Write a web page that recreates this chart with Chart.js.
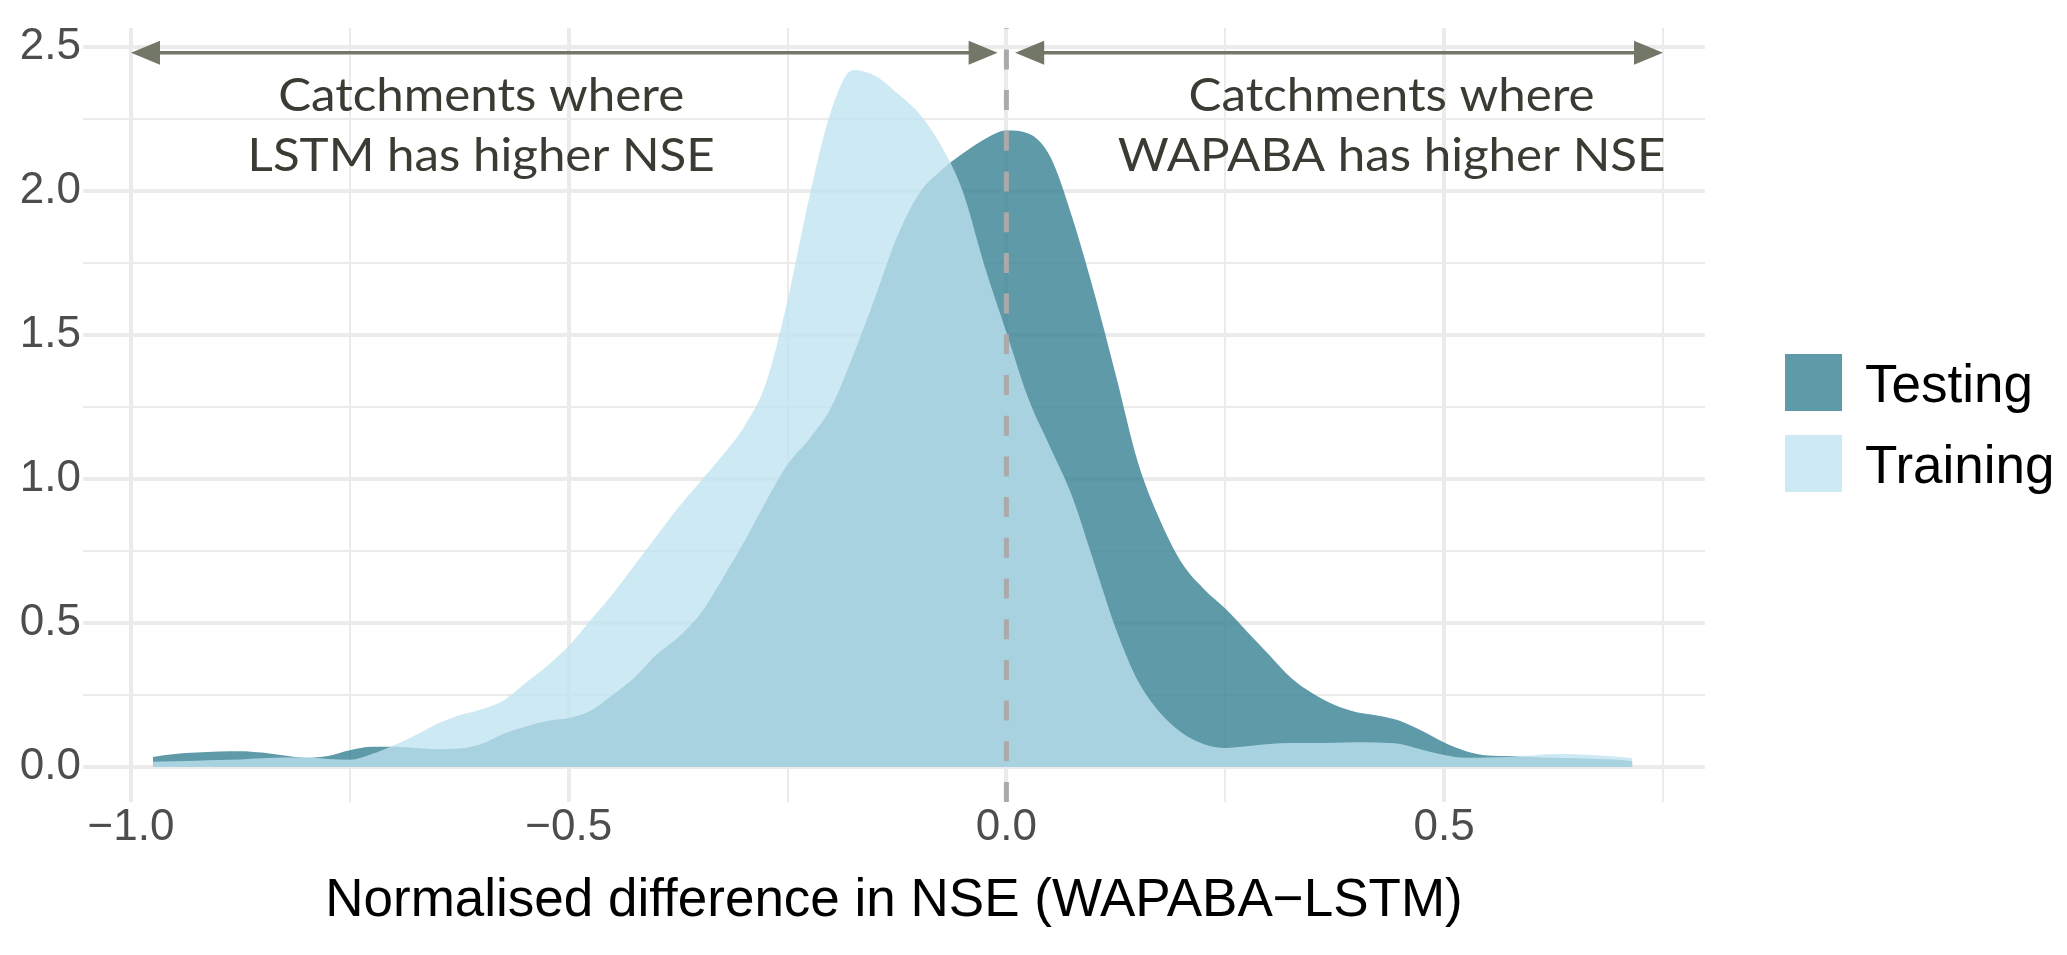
<!DOCTYPE html>
<html>
<head>
<meta charset="utf-8">
<script src="https://cdn.jsdelivr.net/npm/chart.js@4.4.0/dist/chart.umd.min.js"></script>
<style>
  html, body { margin: 0; padding: 0; background: #fff; }
  #wrap { width: 2067px; height: 955px; }
</style>
</head>
<body>
<div id="wrap"><canvas id="chart"></canvas></div>
<script>
// Density of normalised NSE difference
const xs = [-0.975, -0.95, -0.925, -0.9, -0.875, -0.85, -0.825, -0.8, -0.775, -0.75,
  -0.725, -0.7, -0.675, -0.65, -0.625, -0.6, -0.575, -0.55, -0.525, -0.5,
  -0.475, -0.45, -0.425, -0.4, -0.375, -0.35, -0.325, -0.3, -0.275, -0.25,
  -0.225, -0.2, -0.175, -0.15, -0.125, -0.1, -0.075, -0.05, -0.025, 0,
  0.025, 0.05, 0.075, 0.1, 0.125, 0.15, 0.175, 0.2, 0.225, 0.25,
  0.275, 0.3, 0.325, 0.35, 0.375, 0.4, 0.425, 0.45, 0.475, 0.5,
  0.525, 0.55, 0.575, 0.6, 0.625, 0.65, 0.675, 0.7, 0.715];

const testing = [0.035, 0.045, 0.05, 0.054, 0.055, 0.05, 0.04, 0.032, 0.038, 0.058,
  0.07, 0.07, 0.066, 0.062, 0.064, 0.08, 0.115, 0.14, 0.16, 0.17,
  0.195, 0.25, 0.31, 0.39, 0.45, 0.53, 0.65, 0.78, 0.92, 1.05,
  1.14, 1.25, 1.43, 1.63, 1.84, 1.99, 2.07, 2.13, 2.18, 2.21,
  2.2, 2.12, 1.91, 1.65, 1.36, 1.06, 0.86, 0.71, 0.62, 0.55,
  0.47, 0.39, 0.31, 0.255, 0.215, 0.19, 0.178, 0.16, 0.125, 0.085,
  0.055, 0.04, 0.038, 0.035, 0.032, 0.03, 0.028, 0.025, 0.02];

const training = [0.018, 0.02, 0.022, 0.024, 0.026, 0.03, 0.033, 0.033, 0.028, 0.025,
  0.045, 0.075, 0.11, 0.15, 0.18, 0.2, 0.23, 0.29, 0.35, 0.42,
  0.51, 0.6, 0.7, 0.8, 0.9, 0.99, 1.08, 1.18, 1.33, 1.62,
  1.98, 2.28, 2.42, 2.4, 2.34, 2.27, 2.16, 2.0, 1.74, 1.51,
  1.28, 1.11, 0.94, 0.71, 0.48, 0.3, 0.19, 0.12, 0.08, 0.066,
  0.072, 0.08, 0.083, 0.083, 0.084, 0.086, 0.085, 0.08, 0.06, 0.042,
  0.032, 0.033, 0.036, 0.04, 0.045, 0.044, 0.04, 0.036, 0.03];

const seriesNames = ["Testing", "Training"];

const xMajor = [-1.0, -0.5, 0.0, 0.5];
const xMinor = [-0.75, -0.25, 0.25, 0.75];
const xTickLabels = ["\u22121.0", "\u22120.5", "0.0", "0.5"];
const yMajor = [0, 0.5, 1.0, 1.5, 2.0, 2.5];
const yMinor = [0.25, 0.75, 1.25, 1.75, 2.25];
const yTickLabels = ["0.0", "0.5", "1.0", "1.5", "2.0", "2.5"];
const xLimits = [-1.0548, 0.798];
const yLimits = [-0.1215, 2.566];

const xTitle = "Normalised difference in NSE (WAPABA\u2212LSTM)";
const refLineX = 0;
const arrowSpans = [[-1.0, -0.01], [0.01, 0.75]];
const arrowLevel = 2.48;
const noteX = [-0.6, 0.44];
const noteLevels = [2.277, 2.07];
const noteLines = [
  ["Catchments where", "LSTM has higher NSE"],
  ["Catchments where", "WAPABA has higher NSE"]
];

const colTesting = "rgba(50, 126, 144, 0.78)";
const colTraining = "rgba(191, 227, 241, 0.78)";

function tickList(major, minor) {
  return major.concat(minor).sort((a, b) => a - b).map(v => ({ value: v }));
}

function isMajor(list, v) {
  return list.some(m => Math.abs(m - v) < 1e-9);
}

// dashed zero line, arrows and the two notes
const notesPlugin = {
  id: "notes",
  afterDatasetsDraw(chart) {
    const { ctx, chartArea, scales } = chart;
    const x = scales.x, y = scales.y;
    ctx.save();

    // dashes start from the bottom of the panel
    const zx = x.getPixelForValue(refLineX);
    ctx.strokeStyle = "#aaaaaa";
    ctx.lineWidth = 5;
    ctx.setLineDash([20, 20.7]);
    ctx.beginPath();
    ctx.moveTo(zx, chartArea.bottom);
    ctx.lineTo(zx, chartArea.top);
    ctx.stroke();
    ctx.setLineDash([]);

    const ay = y.getPixelForValue(arrowLevel);
    const headLen = 29, headHalf = 12;
    ctx.strokeStyle = "#737768";
    ctx.fillStyle = "#737768";
    ctx.lineWidth = 3.5;
    arrowSpans.forEach(([a, b]) => {
      const x1 = x.getPixelForValue(a), x2 = x.getPixelForValue(b);
      ctx.beginPath();
      ctx.moveTo(x1 + headLen - 2, ay);
      ctx.lineTo(x2 - headLen + 2, ay);
      ctx.stroke();
      ctx.beginPath();
      ctx.moveTo(x1, ay);
      ctx.lineTo(x1 + headLen, ay - headHalf);
      ctx.lineTo(x1 + headLen, ay + headHalf);
      ctx.closePath();
      ctx.fill();
      ctx.beginPath();
      ctx.moveTo(x2, ay);
      ctx.lineTo(x2 - headLen, ay - headHalf);
      ctx.lineTo(x2 - headLen, ay + headHalf);
      ctx.closePath();
      ctx.fill();
    });

    ctx.font = "46px Lato";
    ctx.fillStyle = "#3b3b33";
    ctx.textAlign = "center";
    ctx.textBaseline = "alphabetic";
    const sx = 406 / ctx.measureText(noteLines[0][0]).width;
    noteLines.forEach((lines, i) => {
      const cx = x.getPixelForValue(noteX[i]);
      lines.forEach((line, j) => {
        ctx.save();
        ctx.translate(cx, y.getPixelForValue(noteLevels[j]));
        ctx.scale(sx, 1);
        ctx.fillText(line, 0, 0);
        ctx.restore();
      });
    });
    ctx.restore();
  }
};

const legendPlugin = {
  id: "sideLegend",
  afterDraw(chart) {
    const { ctx, chartArea } = chart;
    const left = chartArea.right + 80;
    const box = 57;
    const tops = [354, 435];
    ctx.save();
    ctx.font = "53px 'Liberation Sans', Arial, sans-serif";
    ctx.textBaseline = "alphabetic";
    ctx.textAlign = "left";
    chart.data.datasets.forEach((ds, i) => {
      ctx.fillStyle = "#ffffff";
      ctx.fillRect(left, tops[i], box, box);
      ctx.fillStyle = ds.backgroundColor;
      ctx.fillRect(left, tops[i], box, box);
      ctx.fillStyle = "#000000";
      ctx.fillText(ds.label, left + box + 23, tops[i] + 48);
    });
    ctx.restore();
  }
};

const ctx = document.getElementById("chart").getContext("2d");
new Chart(ctx, {
  type: "line",
  data: {
    datasets: [
      {
        label: seriesNames[0],
        data: xs.map((v, i) => ({ x: v, y: testing[i] })),
        backgroundColor: colTesting,
        borderWidth: 0,
        pointRadius: 0,
        fill: "origin",
        cubicInterpolationMode: "monotone",
        order: 2
      },
      {
        label: seriesNames[1],
        data: xs.map((v, i) => ({ x: v, y: training[i] })),
        backgroundColor: colTraining,
        borderWidth: 0,
        pointRadius: 0,
        fill: "origin",
        cubicInterpolationMode: "monotone",
        order: 1
      }
    ]
  },
  options: {
    responsive: true,
    maintainAspectRatio: false,
    animation: false,
    devicePixelRatio: 1,
    layout: { padding: { left: 0, top: 28, right: 362, bottom: 0 } },
    plugins: {
      legend: { display: false },
      tooltip: { enabled: false }
    },
    scales: {
      x: {
        type: "linear",
        min: xLimits[0],
        max: xLimits[1],
        afterBuildTicks: (scale) => { scale.ticks = tickList(xMajor, xMinor); },
        afterFit: (scale) => { scale.height = 153; },
        border: { display: false },
        grid: {
          drawTicks: false,
          color: "#ebebeb",
          lineWidth: (c) => (c.tick && isMajor(xMajor, c.tick.value) ? 4 : 2)
        },
        ticks: {
          autoSkip: false,
          maxRotation: 0,
          padding: 4,
          color: "#4d4d4d",
          font: { family: "'Liberation Sans', Arial, sans-serif", size: 44, lineHeight: 1 },
          callback: (v) => {
            const k = xMajor.findIndex(m => Math.abs(m - v) < 1e-9);
            return k >= 0 ? xTickLabels[k] : "";
          }
        },
        title: {
          display: true,
          text: xTitle,
          color: "#000000",
          padding: { top: 0, bottom: 22 },
          font: { family: "'Liberation Sans', Arial, sans-serif", size: 53, lineHeight: 1.2 }
        }
      },
      y: {
        type: "linear",
        min: yLimits[0],
        max: yLimits[1],
        afterBuildTicks: (scale) => { scale.ticks = tickList(yMajor, yMinor); },
        afterFit: (scale) => { scale.width = 83; },
        border: { display: false },
        grid: {
          drawTicks: false,
          color: "#ebebeb",
          lineWidth: (c) => (c.tick && isMajor(yMajor, c.tick.value) ? 4 : 2)
        },
        ticks: {
          autoSkip: false,
          padding: 2,
          color: "#4d4d4d",
          font: { family: "'Liberation Sans', Arial, sans-serif", size: 44, lineHeight: 1 },
          callback: (v) => {
            const k = yMajor.findIndex(m => Math.abs(m - v) < 1e-9);
            return k >= 0 ? yTickLabels[k] : "";
          }
        }
      }
    }
  },
  plugins: [notesPlugin, legendPlugin]
});
</script>
</body>
</html>
